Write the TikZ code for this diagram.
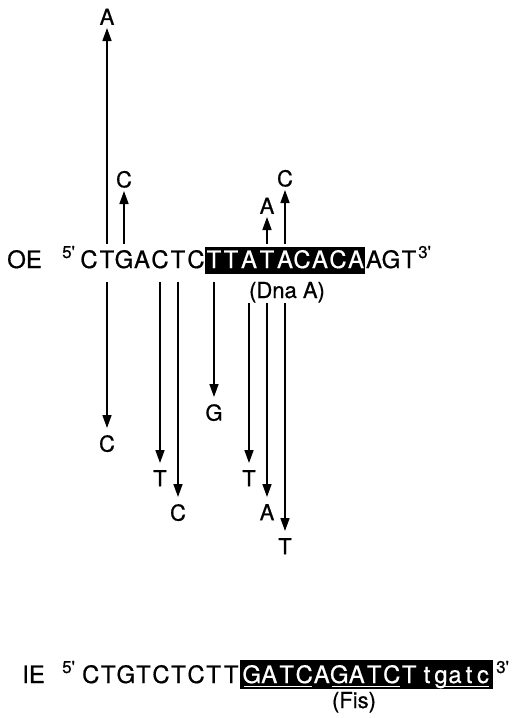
\documentclass[tikz,border=0pt]{standalone}
\usepackage{fontspec}
\setmainfont{TeX Gyre Heros}[FakeBold=0.6]
\usetikzlibrary{arrows.meta}
\begin{document}
\begin{tikzpicture}[x=1pt,y=-1pt,
  seq/.style={font=\fontsize{24}{24}\selectfont, inner sep=0pt, anchor=base},
  lab/.style={font=\fontsize{22}{22}\selectfont, inner sep=0pt},
  supr/.style={font=\fontsize{17}{17}\selectfont, inner sep=0pt, anchor=base west},
  mut/.style={line width=1.6pt, -{Triangle[length=13pt,width=9pt]}},
  ]
\useasboundingbox (0,0) rectangle (516,718);

% ---------- OE row ----------
\node[seq, anchor=base west] (oe) at (7,268) {OE};
\node[supr] (oe5) at (62,258) {5\textquotesingle};
\fill[black] (205,247) rectangle (365,274);
\foreach \c/\col/\x [count=\i from 0] in {C/black/89,T/black/107,G/black/124,A/black/142,C/black/160,T/black/178,C/black/196,T/white/214,T/white/231,A/white/249,T/white/267,A/white/285,C/white/302,A/white/320,C/white/338,A/white/356,A/black/374,G/black/391,T/black/409}
  \node[seq, text=\col] (o\i) at (\x,268) {\c};
\node[supr] (oe3) at (418,258) {3\textquotesingle};
\node[lab, anchor=base] (dna) at (287,298) {(Dna A)};

% up arrows
\foreach \i/\t/\l in {1/28/A, 2/191/C, 10/217/A, 11/190/C}{
  \path (o\i |- 0,\t) ++(0,-3) node[lab, anchor=south] (u\i) {\l};
  \draw[mut, shorten >=3pt] (o\i |- 0,244) -- (u\i.south);
}
% down arrows
\foreach \i/\s/\t/\l in {1/282/428/C, 4/282/463/T, 5/282/497/C, 7/282/397/G, 9/303/463/T, 10/303/497/A, 11/303/531/T}{
  \path (o\i |- 0,\t) ++(0,7) node[lab, anchor=north] (d\i) {\l};
  \draw[mut, shorten >=7pt] (o\i |- 0,\s) -- (d\i.north);
}

% ---------- IE row ----------
\node[seq, anchor=base west] (ie) at (22,683) {IE};
\node[supr] (ie5) at (62,673) {5\textquotesingle};
\foreach \c [count=\i from 0] in {C,T,G,T,C,T,C,T,T}
  \node[seq] (i\i) at ({82+17.55*(\i+0.5)},683) {\c};
\fill[black] (240,660) rectangle (493,689);
\foreach \c [count=\i from 0] in {G,A,T,C,A,G,A,T,C,T}
  \node[seq, text=white] (b\i) at ({243+17.5*(\i+0.5)},683) {\c};
\foreach \c [count=\i from 0] in {t,g,a,t,c}
  \node[seq, text=white] (l\i) at ({420+14*(\i+0.5)},683) {\c};
\draw[white, line width=1pt] (244,686.5) -- (312,686.5);
\draw[white, line width=1pt] (331.5,686.5) -- (399.5,686.5);
\draw[white, line width=1pt] (438,686.5) -- (489,686.5);
\node[supr] (ie3) at (496,673) {3\textquotesingle};
\node[lab, anchor=base] (fis) at (354,708) {(Fis)};
\end{tikzpicture}
\end{document}
